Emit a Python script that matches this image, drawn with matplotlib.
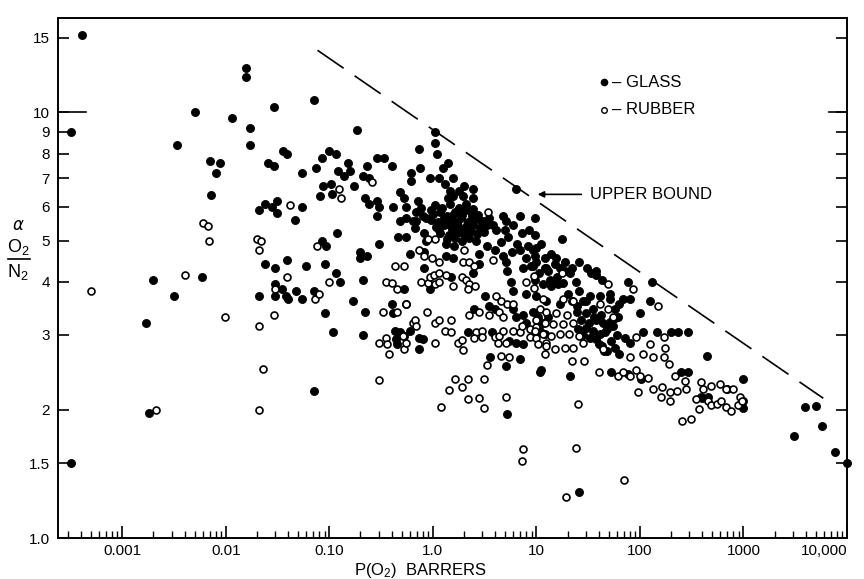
import numpy as np
import matplotlib
matplotlib.use("Agg")
import matplotlib.pyplot as plt
from matplotlib.lines import Line2D
from matplotlib.ticker import FixedLocator, NullFormatter, NullLocator

plt.rcParams['font.family'] = ['Liberation Sans', 'DejaVu Sans']

# (P(O2) in barrers, alpha O2/N2), grouped by region
glass_left = [
    (0.00041, 15.2), (0.00032, 9.0), (0.00032, 1.5), (0.0017, 3.2), (0.0018, 1.97),
    (0.002, 4.05), (0.0032, 3.7), (0.0034, 8.4), (0.005, 10.0), (0.0059, 4.1),
    (0.0071, 7.7), (0.0072, 6.4), (0.008, 7.2), (0.0088, 7.6), (0.0116, 9.7),
    (0.0156, 12.7), (0.0157, 12.1), (0.017, 9.2), (0.017, 8.4), (0.021, 5.9),
    (0.021, 3.7), (0.024, 6.1), (0.024, 4.4), (0.0255, 7.6), (0.028, 6.0),
    (0.029, 10.3), (0.029, 7.5), (0.030, 4.3), (0.030, 3.95), (0.030, 3.7),
    (0.031, 6.2), (0.031, 5.8), (0.035, 3.85), (0.036, 8.1), (0.038, 3.7),
    (0.039, 8.0), (0.039, 4.5), (0.040, 3.65), (0.047, 5.6), (0.048, 3.8),
]
glass_mid = [
    (0.054, 7.2), (0.054, 6.0), (0.055, 3.65), (0.06, 4.35), (0.071, 3.8),
    (0.072, 10.7), (0.072, 2.21), (0.075, 7.4), (0.082, 6.35), (0.085, 7.8),
    (0.085, 5.0), (0.087, 6.7), (0.09, 4.4), (0.09, 3.37), (0.092, 4.85),
    (0.099, 8.1), (0.104, 6.8), (0.107, 6.45), (0.108, 3.05), (0.115, 8.0),
    (0.115, 4.2), (0.12, 5.2), (0.121, 7.3), (0.127, 4.0), (0.14, 7.1),
    (0.15, 7.6), (0.158, 7.3), (0.17, 3.6), (0.175, 6.7), (0.185, 9.1),
    (0.2, 4.7), (0.2, 4.55), (0.21, 7.1), (0.21, 4.05), (0.21, 3.0),
    (0.22, 6.3), (0.22, 3.39), (0.23, 7.5), (0.23, 4.6), (0.24, 7.0),
    (0.24, 6.1), (0.29, 7.8), (0.29, 6.2), (0.29, 5.7), (0.3, 6.0),
    (0.3, 4.9), (0.34, 7.8), (0.4, 7.5), (0.4, 3.55), (0.41, 6.0),
    (0.41, 3.37), (0.43, 3.07), (0.44, 2.93), (0.45, 2.85), (0.46, 5.1),
    (0.48, 6.5), (0.48, 5.55), (0.48, 3.05), (0.53, 6.3), (0.53, 3.85),
    (0.53, 2.98), (0.55, 6.0), (0.55, 5.65), (0.55, 5.1), (0.55, 3.55),
    (0.6, 4.65), (0.6, 3.07), (0.62, 7.2), (0.62, 6.9), (0.64, 5.55),
    (0.67, 5.35), (0.69, 5.85), (0.69, 5.55), (0.72, 6.2), (0.73, 8.2),
    (0.73, 2.95), (0.74, 2.78), (0.75, 7.4), (0.77, 5.95), (0.8, 5.7),
    (0.8, 2.93), (0.83, 5.2), (0.83, 4.7), (0.83, 4.3), (0.86, 5.65),
    (0.86, 5.0), (0.93, 7.0), (0.93, 3.85), (0.97, 5.9),
]
glass_core = [
    (1.06, 9.0), (1.06, 8.5), (1.1, 8.0), (1.15, 7.0), (1.25, 7.4), (1.3, 6.8),
    (1.4, 7.6), (1.45, 6.55), (1.55, 7.0), (1.4, 6.3), (1.55, 6.35), (1.95, 6.35),
    (2.0, 6.7), (2.45, 6.6), (2.45, 6.3), (6.4, 6.6), (1.8, 6.55),
    # the dense knot around 1-3.5 barrers
    (1.05, 6.05), (1.22, 5.95), (1.48, 6.08), (1.78, 5.97), (2.08, 6.1), (2.45, 5.93),
    (1.0, 5.78), (1.18, 5.85), (1.38, 5.72), (1.62, 5.83), (1.92, 5.75), (2.28, 5.86),
    (2.72, 5.74), (0.96, 5.58), (1.12, 5.52), (1.33, 5.63), (1.57, 5.55), (1.86, 5.65),
    (2.18, 5.53), (2.58, 5.62), (3.05, 5.55), (3.45, 5.66), (1.08, 5.38), (1.27, 5.44),
    (1.52, 5.33), (1.77, 5.42), (2.05, 5.35), (2.42, 5.45), (2.85, 5.36), (3.35, 5.43),
    (1.18, 5.22), (1.42, 5.15), (1.68, 5.25), (1.98, 5.18), (2.32, 5.27), (2.7, 5.17),
    (3.15, 5.24), (1.38, 5.03), (1.62, 5.08), (1.9, 4.98), (2.25, 5.06), (2.62, 4.99),
    (1.28, 5.65), (1.7, 5.5), (2.0, 5.9), (2.4, 5.7), (1.55, 5.75), (1.15, 5.3),
    (1.85, 5.25), (2.15, 5.45), (2.9, 5.55), (1.45, 5.45),
    (1.35, 4.9), (1.6, 4.85), (1.35, 4.6), (1.55, 4.55), (2.8, 4.65),
    (3.8, 5.45), (4.1, 5.3), (4.8, 5.7), (5.1, 5.55), (5.0, 5.3), (5.3, 5.1),
    (7.0, 5.7), (7.2, 5.2), (9.7, 5.65), (9.7, 5.15), (8.3, 4.85), (10.0, 4.8),
    (6.9, 4.75), (4.8, 4.6), (5.1, 4.45), (8.0, 4.55), (9.3, 4.35), (3.3, 4.85),
    (4.0, 4.75), (4.6, 4.95), (5.8, 4.7), (6.5, 4.9), (6.0, 5.45), (8.5, 5.3),
    (1.5, 4.1), (2.45, 4.2), (2.8, 4.4), (5.2, 4.25), (5.7, 4.0), (5.9, 3.8),
    (7.4, 4.3), (8.9, 4.35), (9.7, 4.05), (8.0, 3.75), (10.0, 3.7),
    (3.2, 3.7), (3.5, 3.5), (3.95, 3.45), (2.5, 3.45), (5.9, 3.45), (6.4, 3.3),
    (7.4, 3.35), (8.0, 3.2), (9.3, 3.4), (2.2, 3.05), (3.7, 3.05), (5.5, 2.9),
    (6.4, 2.88), (7.5, 2.85), (3.55, 2.66), (5.1, 2.53), (6.9, 2.63), (5.2, 1.96),
]
glass_right = [
    (17.5, 5.05), (9.3, 4.75), (9.7, 4.6), (10.0, 4.45), (14, 4.65), (15.6, 4.55),
    (12, 4.3), (13.5, 4.05), (15, 4.4), (16.8, 4.3), (18.8, 4.25), (21, 4.2),
    (14.5, 4.0), (16.2, 3.95), (18, 3.97), (26, 4.45), (31, 4.3), (34, 4.2),
    (38, 4.25), (38, 4.15), (43, 4.05), (12.5, 4.3), (11.6, 3.95), (12.5, 3.6),
    (10.4, 3.3), (11.6, 3.2), (13.0, 3.3), (10.8, 3.07), (12.0, 3.02), (10.8, 2.45),
    (51, 3.65), (68, 3.65), (80, 3.65), (76, 4.0), (130, 4.0), (125, 3.6),
    (100, 3.37), (107, 3.05), (145, 3.05), (200, 3.05), (235, 3.05), (290, 3.05),
    (22, 3.6), (24.5, 3.5), (28, 3.6), (24.5, 3.4), (30, 3.37), (35, 3.45),
    (38, 3.25), (44, 3.2), (51, 3.22), (57, 3.28), (30, 3.12), (35, 3.07),
    (41, 3.02), (46, 3.05), (38, 2.93), (43, 2.82), (48, 2.75), (71, 2.95),
    (80, 2.88), (63, 3.55), (57, 3.45), (63, 2.7), (41, 3.7), (51, 3.75),
    (27, 3.25), (32, 3.2), (36, 3.3), (42, 3.35), (48, 3.1), (55, 3.15),
    (60, 3.0), (33, 2.95), (40, 2.85), (52, 2.9), (45, 2.75), (58, 2.8),
    (28, 3.0), (25, 3.1), (62, 3.3), (17, 3.55), (20, 3.75), (26, 3.8),
    (30, 3.6), (33, 3.7), (11, 4.9), (12, 4.55), (10.5, 4.2), (13, 4.25),
    (16, 4.1), (19, 4.45), (22, 4.3), (14, 3.9), (24, 4.0),
    (53, 2.45), (76, 2.43), (11.2, 2.48), (21, 2.4), (250, 2.45), (290, 2.45),
    (440, 2.68), (990, 2.37), (103, 2.36), (400, 2.13), (990, 2.1), (990, 2.02),
    (390, 2.14), (450, 2.14), (700, 2.24), (3900, 2.03), (5000, 2.04),
    (3100, 1.74), (5700, 1.83), (7600, 1.59), (10000, 1.5), (26, 1.28),
]

rubber_left = [
    (0.0005, 3.8), (0.0021, 2.0), (0.004, 4.15), (0.0061, 5.5), (0.0068, 5.4),
    (0.0069, 5.0), (0.0099, 3.3), (0.02, 5.05), (0.021, 4.75), (0.021, 3.15),
    (0.021, 2.0), (0.022, 5.0), (0.023, 2.5), (0.029, 3.35), (0.03, 3.85),
    (0.039, 4.1), (0.042, 6.05),
]
rubber_mid = [
    (0.073, 3.65), (0.076, 4.85), (0.08, 3.75), (0.1, 4.0), (0.125, 6.6),
    (0.13, 6.3), (0.26, 6.85), (0.3, 2.35), (0.3, 2.88), (0.33, 3.4),
    (0.35, 4.0), (0.35, 2.95), (0.36, 2.85), (0.38, 2.7), (0.4, 3.97),
    (0.43, 4.35), (0.45, 3.85), (0.45, 3.4), (0.51, 2.98), (0.53, 4.35),
    (0.53, 2.78), (0.55, 3.55), (0.55, 2.88), (0.64, 3.2), (0.67, 3.25),
    (0.69, 3.15), (0.74, 4.75), (0.77, 4.0), (0.83, 4.6), (0.87, 3.4),
    (0.9, 5.05), (0.9, 3.97), (0.93, 4.1), (0.98, 4.55),
]
rubber_core = [
    (1.06, 5.05), (1.15, 4.45), (1.03, 4.15), (1.15, 4.2), (1.04, 3.95),
    (1.15, 4.0), (1.35, 4.15), (1.55, 3.9), (1.9, 4.1), (2.1, 4.05),
    (2.25, 3.95), (2.55, 3.9), (2.2, 3.85), (1.95, 4.45), (2.25, 4.45),
    (2.5, 4.35), (2.0, 4.75), (3.8, 4.5), (3.4, 5.85), (1.06, 3.2),
    (1.16, 3.25), (1.5, 3.25), (1.3, 3.07), (1.5, 3.05), (2.6, 3.05),
    (3.0, 3.07), (2.5, 2.95), (3.0, 2.97), (3.95, 2.97), (4.4, 2.98),
    (4.75, 3.07), (4.25, 2.88), (5.1, 2.87), (5.9, 3.07), (7.0, 3.05),
    (8.6, 2.97), (9.9, 2.95), (12.5, 2.88), (1.04, 2.88), (1.75, 2.88),
    (1.93, 2.92), (1.95, 2.77), (3.3, 2.55), (4.6, 2.68), (5.5, 2.66),
    (1.62, 2.37), (2.2, 2.37), (3.15, 2.36), (1.43, 2.23), (1.93, 2.26),
    (2.2, 2.12), (2.8, 2.13), (5.1, 2.14), (1.2, 2.03), (3.1, 2.02),
    (7.5, 1.62), (7.2, 1.52), (4.1, 3.7), (4.6, 3.6), (5.2, 3.55),
    (5.9, 3.55), (2.25, 3.35), (2.8, 3.4), (3.5, 3.35), (4.4, 3.4),
    (4.75, 3.3), (7.2, 3.15), (8.6, 3.1), (10.0, 3.13), (8.0, 4.0),
    (9.5, 4.12), (9.5, 3.87), (11.6, 3.65),
]
rubber_right = [
    (17.5, 4.2), (49, 3.95), (86, 3.85), (150, 3.5), (18, 3.65), (22.5, 3.6),
    (41, 3.55), (49, 3.45), (55, 3.3), (10.8, 3.45), (12.5, 3.4), (15.6, 3.37),
    (19.6, 3.35), (10, 3.25), (12, 3.2), (14.5, 3.18), (18, 3.18), (22.5, 3.2),
    (9.7, 3.07), (11.6, 3.02), (14, 2.98), (16.8, 3.02), (20.5, 3.02), (26, 2.98),
    (10.4, 2.86), (12.5, 2.83), (15, 2.78), (18.8, 2.8), (22.5, 2.8), (28, 2.88),
    (12, 2.7), (22, 2.6), (29, 2.6), (40, 2.45), (61, 2.4), (68, 2.45),
    (80, 2.4), (92, 2.48), (44, 2.78), (80, 2.66), (107, 2.7), (135, 2.66),
    (170, 2.66), (92, 2.97), (125, 2.86), (170, 2.97), (175, 2.8), (190, 2.57),
    (100, 2.4), (120, 2.38), (220, 2.4), (96, 2.2), (133, 2.24), (165, 2.26),
    (195, 2.2), (230, 2.22), (270, 2.34), (280, 2.24), (160, 2.14), (195, 2.1),
    (255, 1.88), (310, 1.9), (393, 2.32), (410, 2.24), (490, 2.28), (590, 2.3),
    (685, 2.24), (790, 2.24), (920, 2.14), (350, 2.12), (375, 2.01), (450, 2.1),
    (490, 2.05), (550, 2.07), (610, 2.1), (685, 2.03), (760, 1.99), (885, 2.05),
    (960, 2.1), (25, 2.06), (24, 1.63), (19.5, 1.25), (70, 1.37),
]

upper_bound_p = [0.077, 5900]
upper_bound_alpha = [14.0, 2.13]

x_ticks = [0.001, 0.01, 0.1, 1, 10, 100, 1000, 10000]
x_labels = ["0.001", "0.01", "0.10", "1.0", "10", "100", "1000", "10,000"]
y_ticks = [1.0, 1.5, 2, 3, 4, 5, 6, 7, 8, 9, 10, 15]
y_labels = ["1.0", "1.5", "2", "3", "4", "5", "6", "7", "8", "9", "10", "15"]

glass = np.array(glass_left + glass_mid + glass_core + glass_right)
rubber = np.array(rubber_left + rubber_mid + rubber_core + rubber_right)

W, H = 864, 579
fig = plt.figure(figsize=(W / 100, H / 100), dpi=100)
ax = fig.add_axes([58 / W, 1 - 538 / H, (847 - 58) / W, (538 - 17.7) / H])
ax.set_xscale("log")
ax.set_yscale("log")
ax.set_xlim(2.4e-4, 1.0e4)
ax.set_ylim(1.0, 16.7)

ax.plot(glass[:, 0], glass[:, 1], "o", ms=5.8, mfc="black", mec="black",
        mew=0.6, ls="none", clip_on=False, zorder=3)
ax.plot(rubber[:, 0], rubber[:, 1], "o", ms=5.0, mfc="white", mec="black",
        mew=1.2, ls="none", clip_on=False, zorder=4)

ax.plot(upper_bound_p, upper_bound_alpha, color="black", lw=1.2,
        dashes=(19, 8), zorder=2)
ax.annotate("UPPER BOUND", xy=(10.3, 6.42), xytext=(32.7, 6.42),
            fontsize=12, va="center", ha="left",
            arrowprops=dict(arrowstyle="-|>", color="black", lw=1.2,
                            mutation_scale=9, shrinkA=4, shrinkB=0))

# legend drawn as in the original
ax.plot([0.692], [0.876], "o", ms=4.5, mfc="black", mec="black",
        transform=ax.transAxes, clip_on=False)
ax.text(0.702, 0.876, "– GLASS", transform=ax.transAxes, fontsize=12,
        va="center", ha="left")
ax.plot([0.692], [0.823], "o", ms=4.0, mfc="white", mec="black", mew=1.0,
        transform=ax.transAxes, clip_on=False)
ax.text(0.702, 0.823, "– RUBBER", transform=ax.transAxes, fontsize=12,
        va="center", ha="left")

for s in ax.spines.values():
    s.set_linewidth(1.4)

ax.xaxis.set_major_locator(FixedLocator(x_ticks))
ax.set_xticklabels(x_labels)
minor = [m * 10.0 ** e for e in range(-4, 4) for m in range(2, 10)]
ax.xaxis.set_minor_locator(FixedLocator(minor))
ax.xaxis.set_minor_formatter(NullFormatter())
ax.yaxis.set_major_locator(FixedLocator(y_ticks))
ax.set_yticklabels(y_labels)
ax.yaxis.set_minor_locator(NullLocator())

ax.tick_params(axis="x", which="major", direction="in", length=9, width=1.2,
               labelsize=11, pad=4, top=False)
ax.tick_params(axis="x", which="minor", direction="in", length=5, width=1.0,
               top=False)
ax.tick_params(axis="y", which="major", direction="in", length=8, width=1.2,
               labelsize=11, pad=6, right=True)
ax.get_xticklabels()[-1].set_ha("right")

# longer marks at 10 on both sides
ax.plot([0, 0.036], [10, 10], color="black", lw=1.2,
        transform=ax.get_yaxis_transform(), clip_on=False)
ax.plot([0.977, 1.0], [10, 10], color="black", lw=1.2,
        transform=ax.get_yaxis_transform(), clip_on=False)

fig.text(420 / W, 1 - 571 / H, r"P(O$\mathregular{_2}$)  BARRERS",
         fontsize=12, ha="center", va="center")
fig.text(18 / W, 1 - 225 / H, r"$\alpha$", fontsize=12, ha="center", va="center")
fig.text(18 / W, 1 - 247 / H, r"O$\mathregular{_2}$", fontsize=13,
         ha="center", va="center")
fig.text(18 / W, 1 - 272 / H, r"N$\mathregular{_2}$", fontsize=13,
         ha="center", va="center")
fig.add_artist(Line2D([8 / W, 30 / W], [1 - 259 / H, 1 - 259 / H],
                      color="black", lw=1.2, transform=fig.transFigure))

fig.savefig("out.png", dpi=100)
